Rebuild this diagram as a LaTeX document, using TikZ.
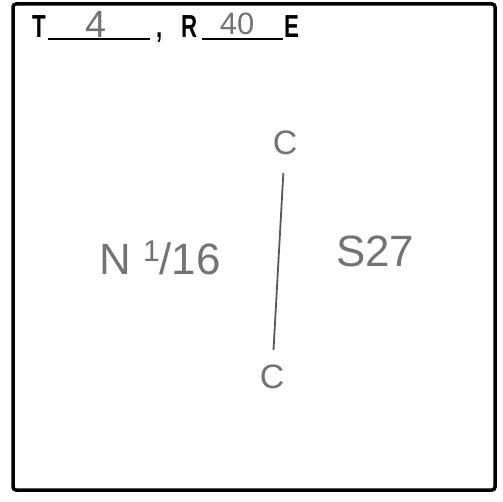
\documentclass[tikz,border=0pt]{standalone}
\usepackage{fontspec}
\setmainfont{Liberation Sans}
\usetikzlibrary{positioning}
\newcommand{\condensed}[1]{\scalebox{0.7}[1]{#1}}

\begin{document}
\begin{tikzpicture}[
        x=1bp, y=-1bp,
        frame/.style={
            draw,
            line width=3.5bp,
            rounded corners=3bp
        },
        printed/.style={
            anchor=base west,
            inner sep=0pt,
            font=\fontsize{32}{32}\selectfont\bfseries
        },
        hand/.style={
            inner sep=0pt,
            text=black!55
        },
        blank/.style={line width=2.5bp},
        meridian/.style={
            draw=black!65,
            line width=1.8bp,
            shorten <=18bp,
            shorten >=15bp
        }
    ]

        \useasboundingbox (0,0) rectangle (503,502);
        \draw[frame] (13,4) rectangle (495,490);

        % township and range line
        \node[printed] (township) at (32,38) {\condensed{T}};
        \draw[blank] (48,39) -- (150,39);
        \node[hand, font=\fontsize{38}{38}\selectfont] (townshipnum) at (96,24) {4};
        \node[printed] (comma) at (156,38) {\condensed{,}};
        \node[printed] (range) at (181,38) {\condensed{R}};
        \draw[blank] (202,39) -- (283,39);
        \node[hand, font=\fontsize{31}{31}\selectfont] (rangenum) at (237,24) {40};
        \node[printed] (east) at (284,38) {\condensed{E}};

        % section line
        \node[hand, font=\fontsize{34}{34}\selectfont] (topc) at (285,143) {C};
        \node[hand, font=\fontsize{34}{34}\selectfont] (botc) at (272,377) {C};
        \draw[meridian] (topc) -- (botc);

        \node[hand, font=\fontsize{44}{44}\selectfont] (north) at (160,258) {N \raisebox{0.3em}{\fontsize{30}{30}\selectfont 1}/16};
        \node[hand, font=\fontsize{44}{44}\selectfont] (south) at (375,251) {S27};

    \end{tikzpicture}
\end{document}
